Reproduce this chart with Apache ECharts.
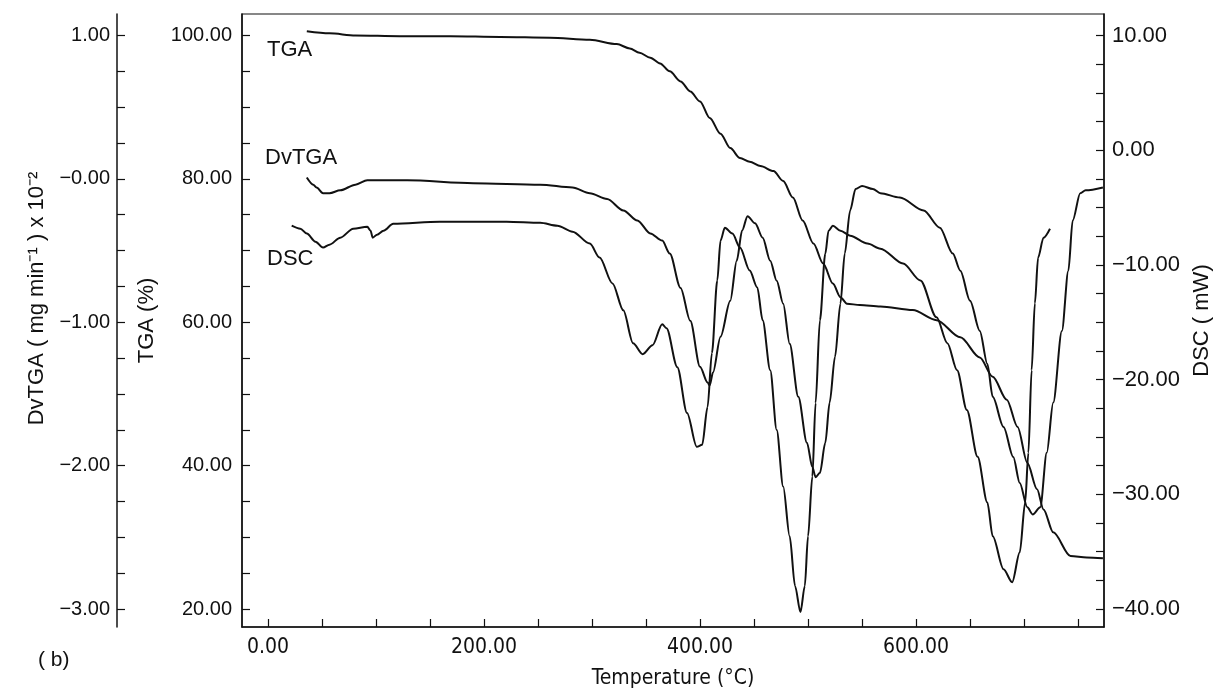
<!DOCTYPE html>
<html>
<head>
<meta charset="utf-8">
<script src="https://cdn.jsdelivr.net/npm/echarts@6/dist/echarts.min.js"></script>
<style>
  html, body { margin: 0; background: #fff; }
  #chart { width: 1214px; height: 688px; }
</style>
</head>
<body>
<div id="chart"></div>
<script>
// TGA curve (temperature in °C, mass in %)
const tgaTemp = [36,57,81,122,169,215,261,298,323,335,344,354,363,372,382,391,400,409,419,428,437,446,456,468,477,486,495,505,514,523,530,536,548,567,597,619,641,659,671,684,694,703,712,718,727,743,758,773];
const tgaValue = [100.6,100.3,100.0,99.9,99.9,99.8,99.7,99.4,98.8,98.2,97.6,96.9,96.1,95.0,93.6,92.2,90.8,88.5,86.3,84.3,82.9,82.4,81.8,81.1,79.7,77.4,74.2,71.0,68.2,65.4,63.5,62.6,62.4,62.2,61.7,60.3,57.9,55.1,52.4,49.2,45.4,40.4,36.7,33.9,30.7,27.4,27.2,27.1];

// DvTGA curve (mg/min x 10^-2)
const dvtgaTemp = [36,42,45,51,57,67,81,92,129,190,252,282,298,314,329,342,354,365,372,382,391,400,407,409,412,419,428,434,439,444,451,458,465,471,477,483,491,499,504,507,511,516,520,525,530,534,539,544,550,560,567,585,607,622,634,641,650,659,666,671,681,690,696,703,708,715,721,727,735,741,745,752,757,773];
const dvtgaValue = [0.01,-0.04,-0.06,-0.10,-0.10,-0.08,-0.04,-0.01,-0.01,-0.03,-0.04,-0.06,-0.10,-0.14,-0.22,-0.29,-0.38,-0.43,-0.52,-0.76,-0.99,-1.31,-1.42,-1.44,-1.35,-1.10,-0.85,-0.57,-0.36,-0.26,-0.31,-0.41,-0.57,-0.71,-0.87,-1.15,-1.52,-1.84,-2.01,-2.08,-2.05,-1.84,-1.56,-1.24,-0.87,-0.52,-0.22,-0.07,-0.05,-0.07,-0.10,-0.13,-0.22,-0.34,-0.52,-0.64,-0.85,-1.06,-1.29,-1.52,-1.73,-1.94,-2.12,-2.29,-2.34,-2.29,-1.91,-1.56,-1.06,-0.64,-0.29,-0.10,-0.08,-0.06];

// DSC curve (mW)
const dscTemp = [22,30,36,44,51,57,67,79,92,95,97,101,107,116,159,221,252,268,282,298,307,319,329,338,347,356,365,369,379,388,397,402,407,411,416,419,423,430,437,446,453,458,465,471,477,483,488,493,497,500,504,507,511,516,519,523,530,539,555,567,588,604,619,629,638,647,657,666,671,681,689,696,701,704,707,710,713,718,724];
const dscValue = [-6.58,-6.84,-7.27,-7.97,-8.49,-8.23,-7.62,-6.84,-6.67,-7.01,-7.62,-7.36,-7.01,-6.41,-6.23,-6.23,-6.32,-6.58,-7.10,-8.14,-9.36,-11.61,-13.96,-16.82,-17.78,-17.0,-15.17,-15.52,-18.91,-22.90,-25.85,-25.68,-22.38,-17.69,-11.35,-7.88,-6.75,-7.27,-8.49,-10.49,-11.96,-14.83,-19.17,-24.38,-29.32,-33.66,-38.0,-40.26,-38.0,-33.66,-28.45,-22.03,-14.83,-9.01,-7.01,-6.58,-7.01,-7.45,-8.14,-8.58,-9.88,-11.35,-14.57,-16.82,-19.17,-22.64,-26.72,-30.71,-33.66,-36.53,-37.66,-35.05,-30.71,-26.37,-19.17,-13.35,-9.36,-7.62,-6.84];

// tick labels
const tempLabels = [0, 200, 400, 600];
const tempTicks = [0,50,100,150,200,250,300,350,400,450,500,550,600,650,700,750];
const tgaLabels = [20, 40, 60, 80, 100];
const tgaTicks = [20,25,30,35,40,45,50,55,60,65,70,75,80,85,90,95,100];
const dvtgaLabels = [-3, -2, -1, 0, 1];
const dvtgaTicks = [-3,-2.75,-2.5,-2.25,-2,-1.75,-1.5,-1.25,-1,-0.75,-0.5,-0.25,0,0.25,0.5,0.75,1];
const dscLabels = [-40, -30, -20, -10, 0, 10];
const dscTicks = [-40,-37.5,-35,-32.5,-30,-27.5,-25,-22.5,-20,-17.5,-15,-12.5,-10,-7.5,-5,-2.5,0,2.5,5,7.5,10];

const ink = '#111';
const font = 'Liberation Sans';
const narrow = '"Liberation Sans Narrow", "DejaVu Sans Condensed", "Liberation Sans", sans-serif';

function fmt(v) {
    return v.toFixed(2).replace('-', '\u2212');
}

function zip(xs, ys) {
    return xs.map((x, i) => [x, ys[i]]);
}

function yAxisBase(min, max, labels, ticks) {
    return {
        type: 'value',
        min: min,
        max: max,
        splitLine: { show: false },
        axisLine: { show: true, onZero: false, lineStyle: { color: ink, width: 1.5 } },
        axisTick: { show: true, inside: true, length: 8, customValues: ticks, lineStyle: { color: ink, width: 1.2 } },
        axisLabel: { customValues: labels, color: ink, fontFamily: font, fontSize: 20 },
        nameLocation: 'middle',
        nameRotate: 90,
        nameTextStyle: { color: ink, fontFamily: font, fontSize: 22 }
    };
}

const chart = echarts.init(document.getElementById('chart'));

const tgaAxis = yAxisBase(17.5, 103, tgaLabels, tgaTicks);
tgaAxis.position = 'left';
tgaAxis.name = 'TGA (%)';
tgaAxis.nameGap = 84;
tgaAxis.axisLabel.margin = 10;
tgaAxis.axisLabel.formatter = fmt;

const dvtgaAxis = yAxisBase(-3.125, 1.15, dvtgaLabels, dvtgaTicks);
dvtgaAxis.position = 'left';
dvtgaAxis.offset = 125;
dvtgaAxis.name = 'DvTGA ( mg min\u207B\u00B9 ) x 10\u207B\u00B2';
dvtgaAxis.nameGap = 69;
// push the title a little up, like the original
dvtgaAxis.nameTextStyle.padding = [0, 0, 0, 44];
dvtgaAxis.axisLabel.margin = 7;
dvtgaAxis.axisLabel.formatter = v => (v === 0 ? '\u22120.00' : fmt(v));

const dscAxis = yAxisBase(-41.5625, 11.875, dscLabels, dscTicks);
dscAxis.position = 'right';
dscAxis.name = 'DSC ( mW)';
dscAxis.nameGap = 77;
dscAxis.axisLabel.margin = 8;
dscAxis.axisLabel.fontSize = 22;
dscAxis.axisLabel.formatter = fmt;

function curve(name, axisIndex, xs, ys) {
    return {
        name: name,
        type: 'line',
        yAxisIndex: axisIndex,
        data: zip(xs, ys),
        showSymbol: false,
        smooth: 0.3,
        smoothMonotone: 'x',
        lineStyle: { color: ink, width: 2 },
        silent: true
    };
}

chart.setOption({
    animation: false,
    backgroundColor: '#fff',
    grid: {
        left: 242, right: 110, top: 14, bottom: 61,
        outerBoundsMode: 'none',
        show: true, borderColor: ink, borderWidth: 1.2
    },
    xAxis: {
        type: 'value',
        min: -24,
        max: 774,
        name: 'Temperature (\u00B0C)',
        nameLocation: 'middle',
        nameGap: 41,
        nameTextStyle: { color: ink, fontFamily: narrow, fontSize: 21 },
        splitLine: { show: false },
        axisLine: { onZero: false, lineStyle: { color: ink, width: 1.5 } },
        axisTick: { inside: true, length: 8, customValues: tempTicks, lineStyle: { color: ink, width: 1.2 } },
        axisLabel: {
            customValues: tempLabels, formatter: fmt, margin: 10,
            color: ink, fontFamily: narrow, fontSize: 21
        }
    },
    yAxis: [tgaAxis, dvtgaAxis, dscAxis],
    graphic: [
        { type: 'text', left: 267, top: 39, style: { text: 'TGA', fill: ink, font: '22px "Liberation Sans"' } },
        { type: 'text', left: 265, top: 147, style: { text: 'DvTGA', fill: ink, font: '22px "Liberation Sans"' } },
        { type: 'text', left: 267, top: 248, style: { text: 'DSC', fill: ink, font: '22px "Liberation Sans"' } },
        { type: 'text', left: 38, top: 650, style: { text: '( b)', fill: ink, font: '21px "Liberation Sans"' } }
    ],
    series: [
        curve('TGA', 0, tgaTemp, tgaValue),
        curve('DvTGA', 1, dvtgaTemp, dvtgaValue),
        curve('DSC', 2, dscTemp, dscValue)
    ]
});
</script>
</body>
</html>
